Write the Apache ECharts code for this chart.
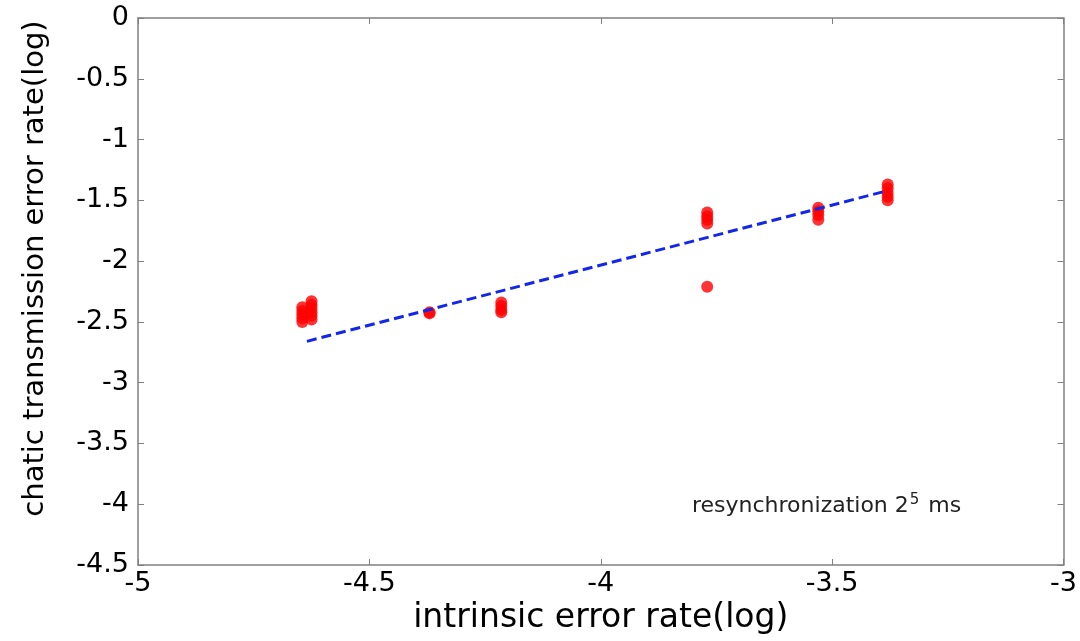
<!DOCTYPE html>
<html>
<head>
<meta charset="utf-8">
<script src="https://cdn.jsdelivr.net/npm/echarts@6/dist/echarts.min.js"></script>
<style>
  html, body { margin: 0; padding: 0; background: #fff; }
  #chart { width: 1080px; height: 641px; }
</style>
</head>
<body>
<div id="chart"></div>
<script>
// measured points (log intrinsic error rate, log transmission error rate)
const pointX = [
  -4.645, -4.645, -4.645, -4.645, -4.645,
  -4.625, -4.625, -4.625, -4.625, -4.625, -4.625,
  -4.37, -4.37,
  -4.215, -4.215, -4.215, -4.215,
  -3.77, -3.77, -3.77, -3.77, -3.77,
  -3.53, -3.53, -3.53, -3.53,
  -3.38, -3.38, -3.38, -3.38, -3.38
];
const pointY = [
  -2.38, -2.41, -2.44, -2.47, -2.50,
  -2.33, -2.36, -2.39, -2.42, -2.45, -2.48,
  -2.42, -2.43,
  -2.34, -2.37, -2.40, -2.42,
  -1.60, -1.63, -1.66, -1.69, -2.21,
  -1.56, -1.59, -1.62, -1.66,
  -1.37, -1.40, -1.44, -1.47, -1.50
];
// fitted line endpoints
const fitX = [-4.635, -3.39];
const fitY = [-2.66, -1.43];

let chart = echarts.init(document.getElementById('chart'));
const font = 'DejaVu Sans, sans-serif';
const axisColor = '#808080';

let commonAxis = {
  type: 'value',
  interval: 0.5,
  splitLine: { show: false },
  axisLine: { show: true, onZero: false, lineStyle: { color: axisColor, width: 1.5 } },
  axisTick: { show: true, inside: true, length: 6, lineStyle: { color: axisColor } }
};

chart.setOption({
  animation: false,
  grid: { left: 138, top: 18, right: 10, bottom: 76, show: false },
  xAxis: [
    Object.assign({}, commonAxis, {
      min: -5, max: -3,
      name: 'intrinsic error rate(log)',
      nameLocation: 'middle',
      nameGap: 33,
      nameTextStyle: { color: '#000', fontSize: 33, fontFamily: font },
      axisLabel: {
        color: '#000', fontSize: 27, fontFamily: font, margin: 5,
        formatter: v => String(v)
      }
    }),
    Object.assign({}, commonAxis, {
      min: -5, max: -3, position: 'top', axisLabel: { show: false }
    })
  ],
  yAxis: [
    Object.assign({}, commonAxis, {
      min: -4.5, max: 0,
      name: 'chatic transmission error rate(log)',
      nameLocation: 'middle',
      nameGap: 88,
      nameTextStyle: { color: '#000', fontSize: 29, fontFamily: font, padding: [0, 0, 0, 46] },
      axisLabel: {
        color: '#000', fontSize: 27, fontFamily: font, margin: 9,
        formatter: v => String(v)
      }
    }),
    Object.assign({}, commonAxis, {
      min: -4.5, max: 0, position: 'right', axisLabel: { show: false }
    })
  ],
  series: [
    {
      type: 'scatter',
      symbol: 'circle',
      symbolSize: 12,
      itemStyle: { color: '#ff0000' },
      data: pointX.map((x, i) => [x, pointY[i]]),
      z: 3
    },
    {
      type: 'line',
      showSymbol: false,
      symbol: 'none',
      lineStyle: { color: '#1426e8', width: 3, type: [10, 5] },
      data: fitX.map((x, i) => [x, fitY[i]]),
      z: 4
    }
  ],
  graphic: [
    {
      type: 'text',
      left: 692,
      top: 493,
      style: {
        text: 'resynchronization 2{sup|5} ms',
        rich: {
          sup: { fontSize: 15, verticalAlign: 'top', padding: [0, 2, 12, 1], fill: '#222', fontFamily: font }
        },
        fontSize: 22,
        fontFamily: font,
        fill: '#222'
      }
    }
  ]
});
</script>
</body>
</html>
